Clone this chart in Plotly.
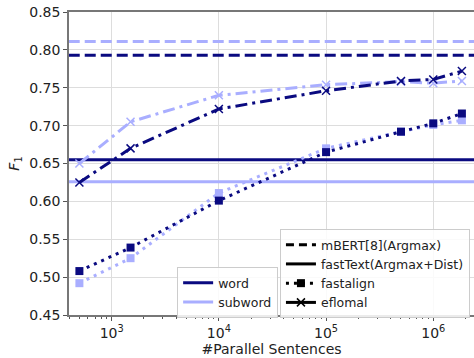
import plotly.graph_objects as go

sizes = [500, 1500, 10000, 100000, 500000, 1000000, 1850000]

eflomal_word = [0.625, 0.670, 0.722, 0.746, 0.759, 0.761, 0.772]
eflomal_subword = [0.650, 0.705, 0.740, 0.754, 0.758, 0.756, 0.759]
fastalign_word = [0.508, 0.539, 0.601, 0.665, 0.692, 0.703, 0.716]
fastalign_subword = [0.492, 0.525, 0.611, 0.670, 0.692, 0.701, 0.707]

mbert_word = 0.793
mbert_subword = 0.811
fasttext_word = 0.655
fasttext_subword = 0.626

DARK = "#0a0a80"
LIGHT = "#a9aeff"
FONT = "DejaVu Sans"

fig = go.Figure()

xr = [2.602, 6.38]
xline = [10 ** xr[0] * 0.5, 10 ** xr[1] * 2]

for val, col in [(mbert_subword, LIGHT), (mbert_word, DARK)]:
    fig.add_trace(go.Scatter(x=xline, y=[val, val], mode="lines",
                             line=dict(color=col, width=3, dash="11px,5px"),
                             showlegend=False, hoverinfo="skip"))
for val, col in [(fasttext_subword, LIGHT), (fasttext_word, DARK)]:
    fig.add_trace(go.Scatter(x=xline, y=[val, val], mode="lines",
                             line=dict(color=col, width=3),
                             showlegend=False, hoverinfo="skip"))

fig.add_trace(go.Scatter(x=sizes, y=fastalign_subword, mode="lines+markers",
                         line=dict(color=LIGHT, width=3, dash="3px,5px"),
                         marker=dict(symbol="square", size=8, color=LIGHT),
                         showlegend=False))
fig.add_trace(go.Scatter(x=sizes, y=fastalign_word, mode="lines+markers",
                         line=dict(color=DARK, width=3, dash="3px,5px"),
                         marker=dict(symbol="square", size=8, color=DARK),
                         showlegend=False))
fig.add_trace(go.Scatter(x=sizes, y=eflomal_subword, mode="lines+markers",
                         line=dict(color=LIGHT, width=3, dash="12px,5px,3px,5px"),
                         marker=dict(symbol="x-thin", size=8, line=dict(color=LIGHT, width=1.5)),
                         showlegend=False))
fig.add_trace(go.Scatter(x=sizes, y=eflomal_word, mode="lines+markers",
                         line=dict(color=DARK, width=3, dash="12px,5px,3px,5px"),
                         marker=dict(symbol="x-thin", size=8, line=dict(color=DARK, width=1.5)),
                         showlegend=False))

fig.add_trace(go.Scatter(x=[None], y=[None], mode="lines", name="word",
                         line=dict(color=DARK, width=3), legend="legend"))
fig.add_trace(go.Scatter(x=[None], y=[None], mode="lines", name="subword",
                         line=dict(color=LIGHT, width=3), legend="legend"))
fig.add_trace(go.Scatter(x=[None], y=[None], mode="lines", name="mBERT[8](Argmax)",
                         line=dict(color="black", width=3, dash="8px,5px"), legend="legend2"))
fig.add_trace(go.Scatter(x=[None], y=[None], mode="lines", name="fastText(Argmax+Dist)",
                         line=dict(color="black", width=3), legend="legend2"))
fig.add_trace(go.Scatter(x=[None], y=[None], mode="lines+markers", name="fastalign",
                         line=dict(color="black", width=3, dash="3px,5px"),
                         marker=dict(symbol="square", size=8, color="black"), legend="legend2"))
fig.add_trace(go.Scatter(x=[None], y=[None], mode="lines+markers", name="eflomal",
                         line=dict(color="black", width=3),
                         marker=dict(symbol="x-thin", size=8, line=dict(color="black", width=1.5)),
                         legend="legend2"))

major = [1e3, 1e4, 1e5, 1e6]
major_text = ["10<sup>3</sup>", "10<sup>4</sup>", "10<sup>5</sup>", "10<sup>6</sup>"]
minor = [m * 10 ** k for k in range(2, 7) for m in range(2, 10)]

fig.update_layout(
    width=474, height=358,
    margin=dict(l=69, r=0, t=12, b=43, autoexpand=False),
    plot_bgcolor="white", paper_bgcolor="white",
    font=dict(family=FONT, size=14, color="#222"),
    xaxis=dict(type="log", range=xr, tickmode="array", tickvals=major, ticktext=major_text,
               ticks="outside", ticklen=4, tickcolor="#555", automargin=False,
               showgrid=True, gridcolor="#dddddd", gridwidth=1,
               showline=True, linecolor="#777", linewidth=1.5, mirror=True,
               minor=dict(tickmode="array", tickvals=minor, ticks="outside", ticklen=2,
                          tickcolor="#555", showgrid=False),
               title=dict(text="#Parallel Sentences", font=dict(size=14), standoff=0),
               zeroline=False),
    yaxis=dict(range=[0.45, 0.85], tickmode="array",
               tickvals=[0.45, 0.5, 0.55, 0.6, 0.65, 0.7, 0.75, 0.8, 0.85],
               ticktext=["0.45", "0.50", "0.55", "0.60", "0.65", "0.70", "0.75", "0.80", "0.85"],
               ticks="outside", ticklen=4, tickcolor="#555", automargin=False,
               ticklabeloverflow="allow",
               showgrid=True, gridcolor="#dddddd", gridwidth=1,
               showline=True, linecolor="#777", linewidth=1.5,
               title=dict(text="<i>F</i><sub>1</sub>", font=dict(size=14), standoff=6),
               zeroline=False),
    legend=dict(x=0.267, y=-0.01, xanchor="left", yanchor="bottom",
                bgcolor="rgba(255,255,255,0.85)", bordercolor="#cccccc", borderwidth=1,
                font=dict(size=12.5), tracegroupgap=0, itemwidth=30),
    legend2=dict(x=0.99, y=-0.01, xanchor="right", yanchor="bottom",
                 bgcolor="rgba(255,255,255,0.85)", bordercolor="#cccccc", borderwidth=1,
                 font=dict(size=12.5), tracegroupgap=0, itemwidth=30),
)

fig.write_html("out.html", config={"displayModeBar": False},
               post_script="document.body.style.margin='0px';")
